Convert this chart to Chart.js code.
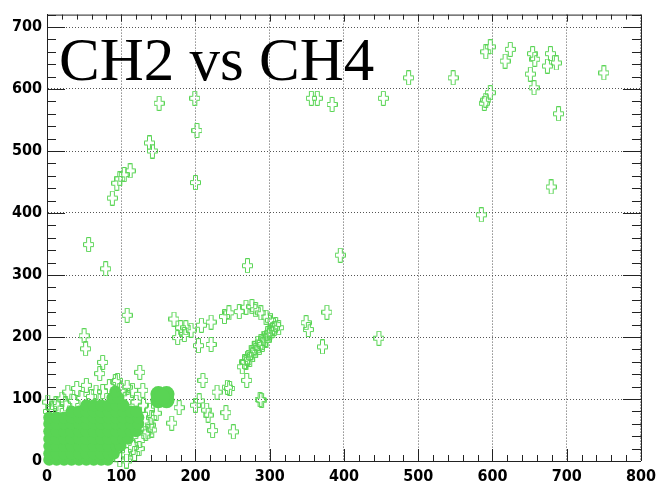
<!DOCTYPE html>
<html>
<head>
<meta charset="utf-8">
<script src="https://cdn.jsdelivr.net/npm/chart.js@4.4.1/dist/chart.umd.min.js"></script>
<style>
  html, body { margin: 0; padding: 0; background: #fff; }
  canvas { display: block; }
</style>
</head>
<body>
<canvas id="scatter" width="662" height="486"></canvas>
<script>
const GREEN = 'rgb(89,212,84)';
const TITLE = 'CH2 vs CH4';

const xTicks = [0, 100, 200, 300, 400, 500, 600, 700, 800];
const yTicks = [0, 100, 200, 300, 400, 500, 600, 700];

// sparse points, [CH4, CH2]
const topPts = [
  [151,577],[199,585],[202,533],[200,449],[138,513],[142,500],
  [356,585],[364,585],[384,575],[453,585],[487,618],[547,618],
  [591,660],[597,668],[624,664],[617,645],[654,657],[657,648],[651,624],[678,657],
  [674,637],[686,642],[656,602],[750,626],[591,582],[597,594],[589,577],[689,560],
  [679,442],[585,397]
];

const midPts = [
  [88,424],[94,448],[98,455],[104,462],[112,468],
  [56,349],[79,310],[270,315],[395,332],
  [108,235],[171,229],[180,215],[187,215],[176,199],[185,204],[194,211],[208,219],[221,224],
  [204,186],[221,188],
  [239,233],[245,239],[259,241],[268,248],[276,249],[281,244],[288,239],[295,232],[301,227],
  [308,220],[312,215],
  [304,210],[299,202],[295,195],[290,188],[286,183],[281,178],[277,171],[273,164],[268,159],[263,152],
  [306,214],[300,207],[292,198],[284,190],[279,181],[275,175],[270,166],[266,160],[297,205],[288,192],
  [349,223],[352,212],[377,240],[371,184],[447,198],[269,130],[287,99]
];

const lowPts = [
  [50,202],[52,181],[71,141],[75,159],[125,143],[129,114],[115,114],[95,130],[108,119],
  [210,130],[229,111],[243,119],[246,117],[205,97],[200,90],[215,82],[217,74],[223,49],
  [251,47],[241,78],[178,86],[168,61],[147,77],[136,47],[289,98]
];

// crosses round the edge of the dense core
const edgePts = [
  [1,95],[6,85],[2,80],[15,88],[25,92],[36,96],[28,111],[40,117],[53,122],[66,111],
  [47,101],[60,104],[75,112],[84,120],[92,128],[100,114],[110,102],[120,95],[130,90],
  [138,82],[141,70],[139,58],[133,45],[125,33],[116,22],[107,10],[98,2],
  [107,0],[118,12],[124,20],[141,50],[20,100],[12,92]
];

// dense core (thousands of overlapping markers), read as rows
const coreRowY = [2, 12, 24, 36, 48, 60, 70, 80, 90, 102, 112];
const coreRowX = [
  [3,13,23,33,43,53,63,73,82],
  [3,13,23,33,43,53,63,73,83,90],
  [3,13,23,33,43,53,63,73,83,93,99],
  [3,13,23,33,43,53,63,73,83,93,103,109],
  [3,13,23,33,43,53,63,73,83,93,103,113,120],
  [3,13,23,33,43,53,63,73,83,93,103,113,123],
  [3,13,23,33,43,53,63,73,83,93,103,113,123],
  [33,43,53,63,73,83,93,103,113,120],
  [53,63,73,83,93,103],
  [88,96],
  [92]
];

// the small round spot near (155, 103)
const spotPts = [[150,98],[150,108],[161,98],[161,108],[155,103]];

const toXY = arr => arr.map(p => ({ x: p[0], y: p[1] }));

const corePts = [];
coreRowY.forEach((y, i) => coreRowX[i].forEach(x => corePts.push({ x, y })));

// open cross marker like ROOT's
function makeCross() {
  const c = document.createElement('canvas');
  c.width = 11; c.height = 15;
  const g = c.getContext('2d');
  g.strokeStyle = GREEN;
  g.lineWidth = 1;
  g.beginPath();
  g.moveTo(3.5,0.5); g.lineTo(7.5,0.5); g.lineTo(7.5,5.5); g.lineTo(10.5,5.5);
  g.lineTo(10.5,9.5); g.lineTo(7.5,9.5); g.lineTo(7.5,14.5); g.lineTo(3.5,14.5);
  g.lineTo(3.5,9.5); g.lineTo(0.5,9.5); g.lineTo(0.5,5.5); g.lineTo(3.5,5.5);
  g.closePath();
  g.stroke();
  return c;
}
const cross = makeCross();

// frame on top/right and inner ticks on all four sides
const framePlugin = {
  id: 'frame',
  beforeDatasetsDraw(chart) {
    const { ctx, chartArea: a, scales: { x, y } } = chart;
    ctx.save();
    ctx.strokeStyle = '#222';
    ctx.lineWidth = 1;
    ctx.beginPath();
    ctx.moveTo(a.left, a.top + 0.5); ctx.lineTo(a.right + 0.5, a.top + 0.5);
    ctx.lineTo(a.right + 0.5, a.bottom);
    for (let v = 0; v <= 800; v += 20) {
      const major = v % 100 === 0;
      const px = Math.round(x.getPixelForValue(v)) + 0.5;
      ctx.moveTo(px, a.bottom); ctx.lineTo(px, a.bottom - (major ? 12 : 6));
      ctx.moveTo(px, a.top); ctx.lineTo(px, a.top + (major ? 7 : 5));
    }
    for (let v = 0; v <= 720; v += 20) {
      const major = v % 100 === 0;
      const py = Math.round(y.getPixelForValue(v)) + 0.5;
      ctx.moveTo(a.left, py); ctx.lineTo(a.left + (major ? 18 : 9), py);
      ctx.moveTo(a.right, py); ctx.lineTo(a.right - (major ? 18 : 9), py);
    }
    ctx.stroke();
    ctx.restore();
  },
  afterDraw(chart) {
    const ctx = chart.ctx;
    ctx.save();
    ctx.fillStyle = '#000';
    ctx.font = '61px "Liberation Serif", "Times New Roman", serif';
    ctx.textBaseline = 'alphabetic';
    ctx.fillText(TITLE, 59, 80);
    ctx.restore();
  }
};

const tickFont = { family: "'Liberation Sans Narrow', 'DejaVu Sans Condensed', sans-serif", size: 16, weight: 'bold' };
const gridOpts = { color: '#555', lineWidth: 1, drawTicks: false };
const borderOpts = { display: true, color: '#222', width: 1, dash: [1, 2] };

const ctx = document.getElementById('scatter').getContext('2d');
new Chart(ctx, {
  type: 'scatter',
  data: {
    datasets: [
      { data: toXY([...topPts, ...midPts, ...lowPts, ...edgePts]), pointStyle: cross, pointRadius: 6, clip: false },
      { data: corePts, pointStyle: 'circle', pointRadius: 6, backgroundColor: GREEN, borderWidth: 0, clip: false },
      { data: toXY(spotPts), pointStyle: 'circle', pointRadius: 8, backgroundColor: GREEN, borderWidth: 0, clip: false }
    ]
  },
  options: {
    responsive: false,
    animation: false,
    events: [],
    layout: { padding: { top: 10, right: 18, left: 0, bottom: 0 } },
    plugins: { legend: { display: false }, tooltip: { enabled: false } },
    scales: {
      x: {
        type: 'linear', min: 0, max: 800,
        afterBuildTicks: s => { s.ticks = xTicks.map(v => ({ value: v })); },
        afterFit: s => { s.height = 25; },
        grid: gridOpts, border: borderOpts,
        ticks: { font: tickFont, color: '#000', padding: 6, maxRotation: 0 }
      },
      y: {
        type: 'linear', min: 0, max: 720,
        afterBuildTicks: s => { s.ticks = yTicks.map(v => ({ value: v })); },
        afterFit: s => { s.width = 47; },
        grid: gridOpts, border: borderOpts,
        ticks: { font: tickFont, color: '#000', padding: 5 }
      }
    }
  },
  plugins: [framePlugin]
});
</script>
</body>
</html>
